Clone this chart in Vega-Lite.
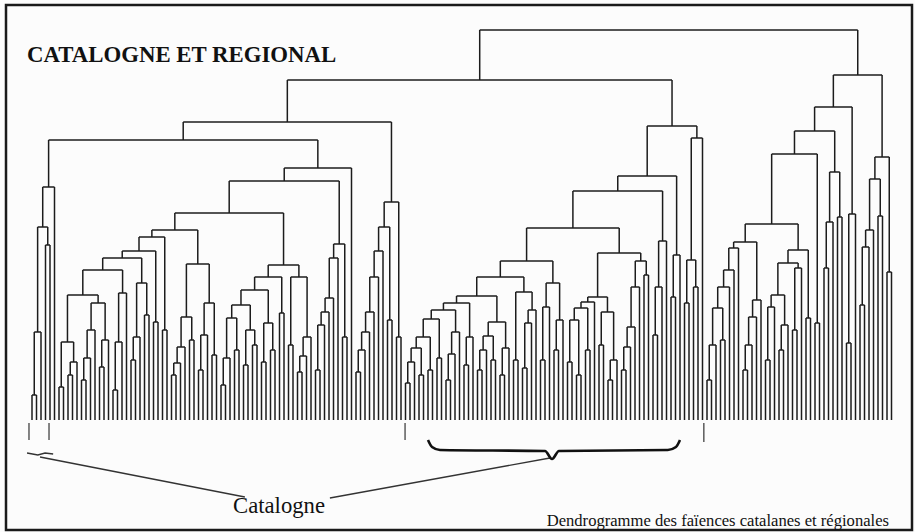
{
"$schema": "https://vega.github.io/schema/vega-lite/v6.json",
"width": 915, "height": 532,
"autosize": {"type": "fit", "contains": "padding"},
"padding": {"left": 6, "top": 5, "right": 3, "bottom": 2},
"background": "#fcfcfc",
"config": {"view": {"stroke": "#1a1a1a", "strokeWidth": 2.5}},
"datasets": {
"nodes": [
{"a":0,"b":1,"d":25,"da":0,"db":0},
{"a":0.5,"b":2,"d":88,"da":25,"db":0},
{"a":3,"b":4,"d":175,"da":0,"db":0},
{"a":1.25,"b":3.5,"d":193,"da":88,"db":175},
{"a":2.38,"b":5,"d":233,"da":193,"db":0},
{"a":6,"b":7,"d":33,"da":0,"db":0},
{"a":8,"b":9,"d":45,"da":0,"db":0},
{"a":8.5,"b":10,"d":58,"da":45,"db":0},
{"a":6.5,"b":9.25,"d":78,"da":33,"db":58},
{"a":11,"b":12,"d":40,"da":0,"db":0},
{"a":11.5,"b":13,"d":62,"da":40,"db":0},
{"a":12.25,"b":14,"d":90,"da":62,"db":0},
{"a":15,"b":16,"d":53,"da":0,"db":0},
{"a":15.5,"b":17,"d":80,"da":53,"db":0},
{"a":13.13,"b":16.25,"d":117,"da":90,"db":80},
{"a":7.88,"b":14.69,"d":125,"da":78,"db":117},
{"a":18,"b":19,"d":30,"da":0,"db":0},
{"a":18.5,"b":20,"d":78,"da":30,"db":0},
{"a":19.25,"b":21,"d":127,"da":78,"db":0},
{"a":11.29,"b":20.13,"d":150,"da":125,"db":127},
{"a":22,"b":23,"d":60,"da":0,"db":0},
{"a":22.5,"b":24,"d":83,"da":60,"db":0},
{"a":25,"b":26,"d":105,"da":0,"db":0},
{"a":23.25,"b":25.5,"d":137,"da":83,"db":105},
{"a":15.71,"b":24.38,"d":162,"da":150,"db":137},
{"a":27,"b":28,"d":98,"da":0,"db":0},
{"a":20.05,"b":27.5,"d":169,"da":162,"db":98},
{"a":29,"b":30,"d":90,"da":0,"db":0},
{"a":23.78,"b":29.5,"d":183,"da":169,"db":90},
{"a":31,"b":32,"d":45,"da":0,"db":0},
{"a":31.5,"b":33,"d":57,"da":45,"db":0},
{"a":32.25,"b":34,"d":73,"da":57,"db":0},
{"a":35,"b":36,"d":80,"da":0,"db":0},
{"a":33.13,"b":35.5,"d":103,"da":73,"db":80},
{"a":37,"b":38,"d":50,"da":0,"db":0},
{"a":37.5,"b":39,"d":85,"da":50,"db":0},
{"a":40,"b":41,"d":65,"da":0,"db":0},
{"a":38.25,"b":40.5,"d":117,"da":85,"db":65},
{"a":34.31,"b":39.38,"d":156,"da":103,"db":117},
{"a":26.64,"b":36.84,"d":190,"da":183,"db":156},
{"a":42,"b":43,"d":35,"da":0,"db":0},
{"a":42.5,"b":44,"d":62,"da":35,"db":0},
{"a":45,"b":46,"d":70,"da":0,"db":0},
{"a":43.25,"b":45.5,"d":102,"da":62,"db":70},
{"a":47,"b":48,"d":55,"da":0,"db":0},
{"a":49,"b":50,"d":75,"da":0,"db":0},
{"a":47.5,"b":49.5,"d":90,"da":55,"db":75},
{"a":44.38,"b":48.5,"d":115,"da":102,"db":90},
{"a":51,"b":52,"d":58,"da":0,"db":0},
{"a":53,"b":54,"d":70,"da":0,"db":0},
{"a":51.5,"b":53.5,"d":97,"da":58,"db":70},
{"a":46.44,"b":52.5,"d":130,"da":115,"db":97},
{"a":55,"b":56,"d":107,"da":0,"db":0},
{"a":49.47,"b":55.5,"d":143,"da":130,"db":107},
{"a":57,"b":58,"d":75,"da":0,"db":0},
{"a":59,"b":60,"d":48,"da":0,"db":0},
{"a":59.5,"b":61,"d":64,"da":48,"db":0},
{"a":60.25,"b":62,"d":83,"da":64,"db":0},
{"a":57.5,"b":61.13,"d":143,"da":75,"db":83},
{"a":52.49,"b":59.31,"d":155,"da":143,"db":143},
{"a":31.74,"b":55.9,"d":207,"da":190,"db":155},
{"a":63,"b":64,"d":50,"da":0,"db":0},
{"a":63.5,"b":65,"d":95,"da":50,"db":0},
{"a":64.25,"b":66,"d":108,"da":95,"db":0},
{"a":65.13,"b":67,"d":122,"da":108,"db":0},
{"a":66.06,"b":68,"d":162,"da":122,"db":0},
{"a":69,"b":70,"d":83,"da":0,"db":0},
{"a":67.03,"b":69.5,"d":176,"da":162,"db":83},
{"a":43.82,"b":68.27,"d":239,"da":207,"db":176},
{"a":56.05,"b":71,"d":252,"da":239,"db":0},
{"a":3.69,"b":63.52,"d":280,"da":233,"db":252},
{"a":72,"b":73,"d":48,"da":0,"db":0},
{"a":72.5,"b":74,"d":70,"da":48,"db":0},
{"a":73.25,"b":75,"d":88,"da":70,"db":0},
{"a":74.13,"b":76,"d":108,"da":88,"db":0},
{"a":75.06,"b":77,"d":143,"da":108,"db":0},
{"a":76.03,"b":78,"d":169,"da":143,"db":0},
{"a":79,"b":80,"d":100,"da":0,"db":0},
{"a":77.02,"b":79.5,"d":193,"da":169,"db":100},
{"a":81,"b":82,"d":83,"da":0,"db":0},
{"a":78.26,"b":81.5,"d":218,"da":193,"db":83},
{"a":33.6,"b":79.88,"d":298,"da":280,"db":218},
{"a":83,"b":84,"d":37,"da":0,"db":0},
{"a":83.5,"b":85,"d":58,"da":37,"db":0},
{"a":86,"b":87,"d":45,"da":0,"db":0},
{"a":84.25,"b":86.5,"d":72,"da":58,"db":45},
{"a":88,"b":89,"d":50,"da":0,"db":0},
{"a":85.38,"b":88.5,"d":83,"da":72,"db":50},
{"a":90,"b":91,"d":62,"da":0,"db":0},
{"a":86.94,"b":90.5,"d":101,"da":83,"db":62},
{"a":92,"b":93,"d":40,"da":0,"db":0},
{"a":92.5,"b":94,"d":66,"da":40,"db":0},
{"a":93.25,"b":95,"d":88,"da":66,"db":0},
{"a":88.72,"b":94.13,"d":110,"da":101,"db":88},
{"a":96,"b":97,"d":55,"da":0,"db":0},
{"a":96.5,"b":98,"d":83,"da":55,"db":0},
{"a":91.43,"b":97.25,"d":117,"da":110,"db":83},
{"a":99,"b":100,"d":50,"da":0,"db":0},
{"a":99.5,"b":101,"d":70,"da":50,"db":0},
{"a":102,"b":103,"d":60,"da":0,"db":0},
{"a":100.25,"b":102.5,"d":84,"da":70,"db":60},
{"a":104,"b":105,"d":45,"da":0,"db":0},
{"a":104.5,"b":106,"d":72,"da":45,"db":0},
{"a":101.38,"b":105.25,"d":98,"da":84,"db":72},
{"a":94.34,"b":103.31,"d":124,"da":117,"db":98},
{"a":107,"b":108,"d":60,"da":0,"db":0},
{"a":109,"b":110,"d":52,"da":0,"db":0},
{"a":109.5,"b":111,"d":97,"da":52,"db":0},
{"a":110.25,"b":112,"d":110,"da":97,"db":0},
{"a":107.5,"b":111.13,"d":128,"da":60,"db":110},
{"a":98.83,"b":109.31,"d":143,"da":124,"db":128},
{"a":113,"b":114,"d":60,"da":0,"db":0},
{"a":113.5,"b":115,"d":113,"da":60,"db":0},
{"a":116,"b":117,"d":70,"da":0,"db":0},
{"a":116.5,"b":118,"d":100,"da":70,"db":0},
{"a":114.25,"b":117.25,"d":137,"da":113,"db":100},
{"a":104.07,"b":115.75,"d":159,"da":143,"db":137},
{"a":119,"b":120,"d":58,"da":0,"db":0},
{"a":121,"b":122,"d":45,"da":0,"db":0},
{"a":119.5,"b":121.5,"d":100,"da":58,"db":45},
{"a":123,"b":124,"d":70,"da":0,"db":0},
{"a":120.5,"b":123.5,"d":112,"da":100,"db":70},
{"a":122,"b":125,"d":118,"da":112,"db":0},
{"a":126,"b":127,"d":75,"da":0,"db":0},
{"a":128,"b":129,"d":40,"da":0,"db":0},
{"a":128.5,"b":130,"d":60,"da":40,"db":0},
{"a":126.5,"b":129.25,"d":108,"da":75,"db":60},
{"a":123.5,"b":127.88,"d":123,"da":118,"db":108},
{"a":131,"b":132,"d":50,"da":0,"db":0},
{"a":131.5,"b":133,"d":73,"da":50,"db":0},
{"a":132.25,"b":134,"d":93,"da":73,"db":0},
{"a":133.13,"b":135,"d":133,"da":93,"db":0},
{"a":136,"b":137,"d":145,"da":0,"db":0},
{"a":134.06,"b":136.5,"d":159,"da":133,"db":145},
{"a":125.69,"b":135.28,"d":167,"da":123,"db":159},
{"a":109.91,"b":130.49,"d":192,"da":159,"db":167},
{"a":138,"b":139,"d":85,"da":0,"db":0},
{"a":138.5,"b":140,"d":133,"da":85,"db":0},
{"a":139.25,"b":141,"d":179,"da":133,"db":0},
{"a":120.2,"b":140.13,"d":229,"da":192,"db":179},
{"a":142,"b":143,"d":123,"da":0,"db":0},
{"a":142.5,"b":144,"d":165,"da":123,"db":0},
{"a":130.17,"b":143.25,"d":244,"da":229,"db":165},
{"a":145,"b":146,"d":117,"da":0,"db":0},
{"a":147,"b":148,"d":133,"da":0,"db":0},
{"a":145.5,"b":147.5,"d":160,"da":117,"db":133},
{"a":146.5,"b":149,"d":282,"da":160,"db":0},
{"a":136.71,"b":147.75,"d":294,"da":244,"db":282},
{"a":56.74,"b":142.23,"d":340,"da":298,"db":294},
{"a":150,"b":151,"d":40,"da":0,"db":0},
{"a":150.5,"b":152,"d":75,"da":40,"db":0},
{"a":153,"b":154,"d":80,"da":0,"db":0},
{"a":151.25,"b":153.5,"d":112,"da":75,"db":80},
{"a":152.38,"b":155,"d":133,"da":112,"db":0},
{"a":153.69,"b":156,"d":150,"da":133,"db":0},
{"a":154.84,"b":157,"d":172,"da":150,"db":0},
{"a":158,"b":159,"d":50,"da":0,"db":0},
{"a":158.5,"b":160,"d":75,"da":50,"db":0},
{"a":159.25,"b":161,"d":103,"da":75,"db":0},
{"a":160.13,"b":162,"d":120,"da":103,"db":0},
{"a":155.92,"b":161.06,"d":178,"da":172,"db":120},
{"a":163,"b":164,"d":60,"da":0,"db":0},
{"a":163.5,"b":165,"d":113,"da":60,"db":0},
{"a":166,"b":167,"d":70,"da":0,"db":0},
{"a":166.5,"b":168,"d":95,"da":70,"db":0},
{"a":164.25,"b":167.25,"d":125,"da":113,"db":95},
{"a":169,"b":170,"d":90,"da":0,"db":0},
{"a":169.5,"b":171,"d":152,"da":90,"db":0},
{"a":165.75,"b":170.25,"d":157,"da":125,"db":152},
{"a":172,"b":173,"d":102,"da":0,"db":0},
{"a":168,"b":172.5,"d":170,"da":157,"db":102},
{"a":158.49,"b":170.25,"d":196,"da":178,"db":170},
{"a":174,"b":175,"d":97,"da":0,"db":0},
{"a":164.37,"b":174.5,"d":266,"da":196,"db":97},
{"a":176,"b":177,"d":152,"da":0,"db":0},
{"a":176.5,"b":178,"d":198,"da":152,"db":0},
{"a":179,"b":180,"d":203,"da":0,"db":0},
{"a":177.25,"b":179.5,"d":248,"da":198,"db":203},
{"a":169.44,"b":178.38,"d":289,"da":266,"db":248},
{"a":181,"b":182,"d":77,"da":0,"db":0},
{"a":181.5,"b":183,"d":206,"da":77,"db":0},
{"a":173.91,"b":182.25,"d":313,"da":289,"db":206},
{"a":184,"b":185,"d":115,"da":0,"db":0},
{"a":184.5,"b":186,"d":173,"da":115,"db":0},
{"a":185.25,"b":187,"d":190,"da":173,"db":0},
{"a":188,"b":189,"d":204,"da":0,"db":0},
{"a":186.13,"b":188.5,"d":241,"da":190,"db":204},
{"a":190,"b":191,"d":148,"da":0,"db":0},
{"a":187.31,"b":190.5,"d":263,"da":241,"db":148},
{"a":178.08,"b":188.91,"d":345,"da":313,"db":263},
{"a":99.49,"b":183.5,"d":390,"da":340,"db":345}
],
"ticks": [
{"x":-0.67,"d1":-3,"d2":-20},
{"x":3.78,"d1":-3,"d2":-20},
{"x":82.9,"d1":-3,"d2":-20},
{"x":149.3,"d1":-3,"d2":-22}
],
"pointers": [
{"g":"p1","o":1,"x":1.78,"d":-37},
{"g":"p1","o":2,"x":47.3,"d":-77},
{"g":"p2","o":1,"x":66.2,"d":-78},
{"g":"p2","o":2,"x":115.1,"d":-38},
{"g":"sq","o":1,"x":-1.1,"d":-33},
{"g":"sq","o":2,"x":1.3,"d":-35},
{"g":"sq","o":3,"x":2.9,"d":-33},
{"g":"sq","o":4,"x":4.7,"d":-34}
],
"brace": [
{"o":1,"x":88.0,"d":-20},
{"o":2,"x":88.9,"d":-27},
{"o":3,"x":90.67,"d":-30},
{"o":4,"x":114.0,"d":-31},
{"o":5,"x":115.56,"d":-39},
{"o":6,"x":117.1,"d":-31},
{"o":7,"x":141.3,"d":-30},
{"o":8,"x":143.1,"d":-27},
{"o":9,"x":144.0,"d":-20}
],
"title": [{"t":"CATALOGNE ET REGIONAL","x":-1.1,"d":358}],
"group": [{"t":"Catalogne","x":44.67,"d":-93}],
"caption": [{"t":"Dendrogramme des faïences catalanes et régionales","x":190.44,"d":-106}]
},
"layer": [
{"data":{"name":"nodes"},"mark":{"type":"rule","color":"#1c1c1c","strokeWidth":1.5},
 "encoding":{"x":{"field":"a","type":"quantitative","scale":{"domain":[-5.778,195.556],"nice":false,"zero":false},"axis":null},
 "y":{"field":"da","type":"quantitative","scale":{"domain":[-110,415],"nice":false,"zero":false},"axis":null},
 "y2":{"field":"d"}}},
{"data":{"name":"nodes"},"mark":{"type":"rule","color":"#1c1c1c","strokeWidth":1.5},
 "encoding":{"x":{"field":"b","type":"quantitative","scale":{"domain":[-5.778,195.556],"nice":false,"zero":false},"axis":null},
 "y":{"field":"db","type":"quantitative","scale":{"domain":[-110,415],"nice":false,"zero":false},"axis":null},
 "y2":{"field":"d"}}},
{"data":{"name":"nodes"},"mark":{"type":"rule","color":"#1c1c1c","strokeWidth":1.5},
 "encoding":{"x":{"field":"a","type":"quantitative","scale":{"domain":[-5.778,195.556],"nice":false,"zero":false},"axis":null},
 "x2":{"field":"b"},
 "y":{"field":"d","type":"quantitative","scale":{"domain":[-110,415],"nice":false,"zero":false},"axis":null}}},
{"data":{"name":"ticks"},"mark":{"type":"rule","color":"#333333","strokeWidth":1.2},
 "encoding":{"x":{"field":"x","type":"quantitative","scale":{"domain":[-5.778,195.556],"nice":false,"zero":false},"axis":null},
 "y":{"field":"d1","type":"quantitative","scale":{"domain":[-110,415],"nice":false,"zero":false},"axis":null},
 "y2":{"field":"d2"}}},
{"data":{"name":"pointers"},"mark":{"type":"line","color":"#333333","strokeWidth":1.3},
 "encoding":{"x":{"field":"x","type":"quantitative","scale":{"domain":[-5.778,195.556],"nice":false,"zero":false},"axis":null},
 "y":{"field":"d","type":"quantitative","scale":{"domain":[-110,415],"nice":false,"zero":false},"axis":null},
 "detail":{"field":"g","type":"nominal"},"order":{"field":"o","type":"quantitative"}}},
{"data":{"name":"brace"},"mark":{"type":"line","color":"#111111","strokeWidth":2.6,"interpolate":"monotone"},
 "encoding":{"x":{"field":"x","type":"quantitative","scale":{"domain":[-5.778,195.556],"nice":false,"zero":false},"axis":null},
 "y":{"field":"d","type":"quantitative","scale":{"domain":[-110,415],"nice":false,"zero":false},"axis":null},
 "order":{"field":"o","type":"quantitative"}}},
{"data":{"name":"title"},"mark":{"type":"text","font":"Liberation Serif","fontSize":22.8,"fontWeight":"bold","align":"left","baseline":"alphabetic","color":"#111111"},
 "encoding":{"x":{"field":"x","type":"quantitative","scale":{"domain":[-5.778,195.556],"nice":false,"zero":false},"axis":null},
 "y":{"field":"d","type":"quantitative","scale":{"domain":[-110,415],"nice":false,"zero":false},"axis":null},
 "text":{"field":"t"}}},
{"data":{"name":"group"},"mark":{"type":"text","font":"Liberation Serif","fontSize":22.7,"align":"left","baseline":"alphabetic","color":"#111111"},
 "encoding":{"x":{"field":"x","type":"quantitative","scale":{"domain":[-5.778,195.556],"nice":false,"zero":false},"axis":null},
 "y":{"field":"d","type":"quantitative","scale":{"domain":[-110,415],"nice":false,"zero":false},"axis":null},
 "text":{"field":"t"}}},
{"data":{"name":"caption"},"mark":{"type":"text","font":"Liberation Serif","fontSize":16.6,"align":"right","baseline":"alphabetic","color":"#111111"},
 "encoding":{"x":{"field":"x","type":"quantitative","scale":{"domain":[-5.778,195.556],"nice":false,"zero":false},"axis":null},
 "y":{"field":"d","type":"quantitative","scale":{"domain":[-110,415],"nice":false,"zero":false},"axis":null},
 "text":{"field":"t"}}}
]
}
